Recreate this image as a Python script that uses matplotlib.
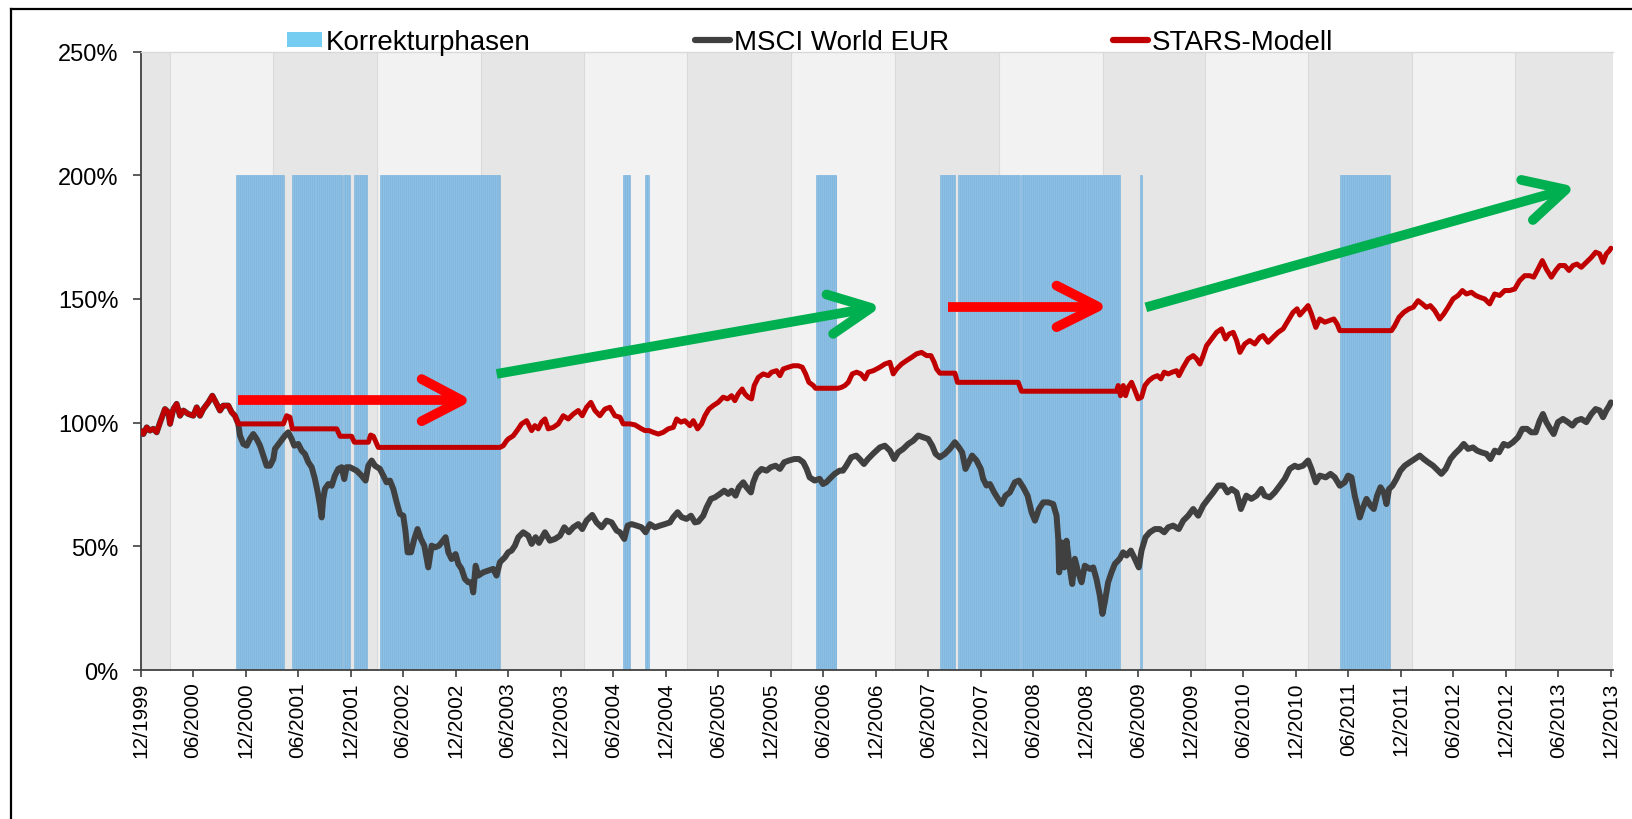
import numpy as np
import matplotlib
matplotlib.use("Agg")
import matplotlib.pyplot as plt
from matplotlib.patches import Patch
from matplotlib.lines import Line2D

# ---------------- data (time in years after 12/1999) ----------------
xtick_labels = ["12/1999", "06/2000", "12/2000", "06/2001", "12/2001", "06/2002", "12/2002",
                "06/2003", "12/2003", "06/2004", "12/2004", "06/2005", "12/2005", "06/2006",
                "12/2006", "06/2007", "12/2007", "06/2008", "12/2008", "06/2009", "12/2009",
                "06/2010", "12/2010", "06/2011", "12/2011", "06/2012", "12/2012", "06/2013",
                "12/2013"]
ytick_values = [0, 50, 100, 150, 200, 250]

# alternating background bands (edges)
band_edges = [0.278, 1.258, 2.249, 3.240, 4.221, 5.201, 6.192, 7.183, 8.174, 9.165,
              10.136, 11.117, 12.108, 13.088]

# correction phases (start, end)
phase_start = [0.909, 1.445, 1.928, 2.032, 2.280, 4.596, 4.803, 6.427, 7.611, 7.779, 8.382, 9.515, 11.425]
phase_end = [1.366, 1.915, 1.994, 2.156, 3.423, 4.660, 4.841, 6.621, 7.754, 8.372, 9.324, 9.531, 11.901]
phase_level = 200

stars_t = [0.000, 0.027, 0.059, 0.090, 0.122, 0.154, 0.186, 0.233, 0.265, 0.281, 0.313, 0.344,
           0.376, 0.408, 0.455, 0.503, 0.535, 0.566, 0.598, 0.646, 0.684, 0.725, 0.757, 0.788,
           0.836, 0.868, 0.899, 0.931, 1.360, 1.391, 1.423, 1.446, 1.868, 1.900, 2.010, 2.036,
           2.169, 2.191, 2.217, 2.264, 3.422, 3.454, 3.486, 3.501, 3.549, 3.597, 3.628, 3.676,
           3.724, 3.755, 3.787, 3.819, 3.851, 3.882, 3.930, 3.978, 4.025, 4.073, 4.121, 4.168,
           4.206, 4.247, 4.288, 4.327, 4.374, 4.422, 4.469, 4.517, 4.565, 4.596, 4.660, 4.708,
           4.771, 4.803, 4.841, 4.882, 4.930, 4.977, 5.025, 5.073, 5.105, 5.145, 5.183, 5.231,
           5.263, 5.304, 5.342, 5.374, 5.412, 5.453, 5.500, 5.548, 5.589, 5.628, 5.659, 5.691,
           5.729, 5.755, 5.786, 5.818, 5.843, 5.882, 5.929, 5.977, 6.009, 6.056, 6.088, 6.120,
           6.168, 6.215, 6.263, 6.301, 6.333, 6.364, 6.406, 6.427, 6.643, 6.675, 6.707, 6.739,
           6.777, 6.818, 6.859, 6.897, 6.929, 6.977, 7.040, 7.087, 7.135, 7.167, 7.199, 7.246,
           7.294, 7.342, 7.389, 7.437, 7.484, 7.526, 7.557, 7.580, 7.611, 7.754, 7.779, 8.357,
           8.388, 9.293, 9.309, 9.331, 9.357, 9.379, 9.404, 9.436, 9.468, 9.499, 9.531, 9.563,
           9.601, 9.642, 9.683, 9.715, 9.747, 9.785, 9.823, 9.864, 9.887, 9.928, 9.975, 10.023,
           10.055, 10.087, 10.118, 10.150, 10.198, 10.245, 10.293, 10.331, 10.363, 10.404,
           10.436, 10.468, 10.514, 10.561, 10.609, 10.657, 10.688, 10.736, 10.783, 10.831,
           10.879, 10.926, 10.974, 11.012, 11.038, 11.076, 11.117, 11.149, 11.190, 11.228,
           11.276, 11.317, 11.362, 11.393, 11.419, 11.911, 11.942, 11.983, 12.028, 12.078,
           12.117, 12.164, 12.205, 12.243, 12.281, 12.322, 12.370, 12.408, 12.449, 12.497,
           12.545, 12.586, 12.624, 12.672, 12.713, 12.751, 12.798, 12.846, 12.893, 12.941,
           12.989, 13.036, 13.084, 13.131, 13.179, 13.227, 13.265, 13.306, 13.347, 13.385,
           13.433, 13.474, 13.512, 13.560, 13.601, 13.639, 13.677, 13.718, 13.766, 13.814,
           13.855, 13.893, 13.925, 13.956, 13.985, 14.000]
stars_v = [96.8, 95.4, 98.1, 96.8, 97.5, 96.1, 100.1, 105.5, 104.2, 99.5, 105.5, 107.6,
           102.8, 104.9, 103.5, 102.8, 106.2, 102.8, 105.5, 108.2, 110.9, 107.6, 104.9, 106.9,
           106.9, 104.2, 102.8, 99.5, 99.5, 102.8, 102.2, 97.5, 97.5, 94.5, 94.5, 92.1,
           92.1, 95.0, 94.5, 90.0, 90.0, 90.7, 92.7, 93.4, 94.7, 97.5, 99.5, 100.8,
           96.8, 98.8, 97.5, 100.2, 101.5, 97.5, 98.1, 99.5, 102.8, 101.5, 103.5, 104.9,
           102.8, 106.2, 108.2, 104.9, 102.8, 105.5, 106.2, 102.8, 102.2, 99.5, 99.5, 99.1,
           97.5, 96.8, 96.8, 96.1, 95.4, 96.1, 97.5, 98.1, 101.5, 100.2, 100.8, 98.8,
           100.8, 97.5, 99.5, 102.8, 105.5, 106.9, 108.2, 110.3, 109.6, 110.9, 108.9, 111.6,
           113.6, 111.6, 110.3, 109.6, 115.0, 118.3, 119.7, 119.0, 120.4, 121.0, 119.0, 121.7,
           122.4, 123.0, 123.0, 122.4, 119.7, 116.3, 115.0, 113.9, 113.9, 114.3, 115.0, 116.3,
           119.7, 120.4, 119.7, 117.7, 120.4, 121.0, 122.4, 123.7, 124.4, 119.7, 121.7, 123.7,
           125.1, 126.4, 127.8, 128.4, 127.1, 127.1, 124.4, 121.7, 120.0, 120.0, 116.3, 116.3,
           112.7, 112.7, 115.0, 110.9, 115.0, 110.9, 114.3, 116.3, 113.0, 109.6, 110.3, 115.0,
           117.0, 118.3, 119.0, 117.7, 120.4, 119.7, 120.4, 121.0, 119.0, 122.4, 125.8, 127.1,
           125.8, 123.7, 127.1, 131.1, 133.8, 136.5, 137.9, 133.8, 135.8, 136.5,
           133.2, 128.4, 131.8, 133.2, 131.8, 134.5, 135.2, 132.5, 134.5, 136.5,
           137.9, 141.2, 144.6, 146.0, 143.5, 145.3, 147.3, 143.9, 138.5, 141.9,
           140.6, 141.2, 141.9, 139.9, 137.2, 137.2, 139.2, 142.6, 144.6, 146.0,
           146.6, 149.3, 148.0, 146.6, 147.3, 145.3, 141.9, 143.9, 146.6, 150.0,
           151.4, 153.4, 152.0, 152.7, 151.4, 150.7, 150.0, 148.0, 152.0, 151.4,
           153.4, 153.4, 154.0, 157.4, 159.4, 159.4, 158.8, 162.1, 165.5, 162.1,
           158.8, 161.5, 163.5, 163.5, 161.5, 163.5, 164.1, 162.8, 164.8, 166.8,
           168.9, 168.2, 164.8, 168.2, 169.5, 170.5]

msci_t = [0.000, 0.027, 0.059, 0.090, 0.122, 0.154, 0.186, 0.233, 0.265, 0.281, 0.313, 0.344,
          0.376, 0.408, 0.455, 0.503, 0.535, 0.566, 0.598, 0.646, 0.684, 0.725, 0.757, 0.788,
          0.836, 0.868, 0.899, 0.931, 0.947, 0.979, 1.011, 1.042, 1.074, 1.106, 1.138, 1.169,
          1.201, 1.233, 1.265, 1.280, 1.328, 1.376, 1.407, 1.439, 1.464, 1.502, 1.534, 1.566,
          1.598, 1.630, 1.661, 1.687, 1.709, 1.725, 1.740, 1.756, 1.788, 1.820, 1.851, 1.883,
          1.915, 1.940, 1.962, 1.994, 2.026, 2.058, 2.105, 2.143, 2.169, 2.201, 2.232, 2.280,
          2.312, 2.343, 2.375, 2.407, 2.439, 2.470, 2.502, 2.524, 2.543, 2.575, 2.607, 2.638,
          2.670, 2.702, 2.740, 2.772, 2.804, 2.842, 2.867, 2.905, 2.931, 2.962, 3.000, 3.026,
          3.057, 3.089, 3.121, 3.152, 3.168, 3.191, 3.216, 3.263, 3.311, 3.358, 3.390, 3.422,
          3.470, 3.501, 3.533, 3.565, 3.597, 3.644, 3.692, 3.724, 3.762, 3.794, 3.825, 3.851,
          3.898, 3.946, 3.994, 4.035, 4.079, 4.121, 4.168, 4.206, 4.247, 4.301, 4.342, 4.390,
          4.438, 4.485, 4.533, 4.565, 4.606, 4.638, 4.676, 4.723, 4.771, 4.809, 4.850, 4.898,
          4.946, 4.993, 5.041, 5.073, 5.114, 5.152, 5.199, 5.241, 5.279, 5.311, 5.358, 5.390,
          5.431, 5.469, 5.517, 5.558, 5.596, 5.628, 5.666, 5.697, 5.739, 5.770, 5.812, 5.834,
          5.866, 5.913, 5.961, 6.002, 6.047, 6.088, 6.129, 6.174, 6.225, 6.269, 6.310, 6.342,
          6.371, 6.418, 6.466, 6.498, 6.529, 6.561, 6.609, 6.656, 6.688, 6.720, 6.767, 6.815,
          6.847, 6.888, 6.926, 6.974, 7.040, 7.087, 7.135, 7.176, 7.214, 7.262, 7.310, 7.357,
          7.405, 7.452, 7.500, 7.538, 7.570, 7.611, 7.659, 7.706, 7.754, 7.792, 7.823, 7.855,
          7.887, 7.918, 7.960, 8.001, 8.023, 8.055, 8.087, 8.128, 8.166, 8.198, 8.236, 8.277,
          8.325, 8.363, 8.404, 8.446, 8.484, 8.516, 8.554, 8.595, 8.642, 8.690, 8.722, 8.738,
          8.747, 8.769, 8.795, 8.817, 8.849, 8.871, 8.896, 8.928, 8.960, 8.991, 9.039, 9.071,
          9.102, 9.134, 9.159, 9.181, 9.213, 9.245, 9.277, 9.324, 9.356, 9.388, 9.429, 9.467,
          9.505, 9.531, 9.569, 9.610, 9.658, 9.705, 9.747, 9.785, 9.832, 9.886, 9.928, 9.975,
          10.023, 10.071, 10.118, 10.166, 10.214, 10.261, 10.309, 10.350, 10.388, 10.436,
          10.477, 10.529, 10.577, 10.625, 10.672, 10.704, 10.752, 10.799, 10.847, 10.895,
          10.942, 10.990, 11.022, 11.069, 11.117, 11.149, 11.190, 11.228, 11.285, 11.330,
          11.371, 11.419, 11.466, 11.498, 11.530, 11.561, 11.584, 11.609, 11.641, 11.673,
          11.711, 11.742, 11.774, 11.806, 11.838, 11.863, 11.888, 11.920, 11.958, 11.996,
          12.037, 12.085, 12.132, 12.180, 12.218, 12.259, 12.307, 12.354, 12.386, 12.427,
          12.472, 12.513, 12.561, 12.599, 12.640, 12.687, 12.726, 12.767, 12.815, 12.853,
          12.894, 12.935, 12.979, 13.021, 13.068, 13.116, 13.157, 13.201, 13.242, 13.284,
          13.322, 13.353, 13.385, 13.423, 13.455, 13.496, 13.544, 13.591, 13.633, 13.671,
          13.718, 13.766, 13.814, 13.855, 13.893, 13.925, 13.956, 13.985, 14.000]
msci_v = [96.8, 95.4, 98.1, 96.8, 97.5, 96.1, 100.1, 105.5, 104.2, 99.5, 105.5, 107.6,
          102.8, 104.9, 103.5, 102.8, 106.2, 102.8, 105.5, 108.2, 110.9, 107.6, 104.9, 106.9,
          106.9, 104.2, 102.8, 99.5, 94.8, 91.4, 90.7, 93.4, 95.4, 93.4, 90.7, 86.7,
          82.6, 82.6, 85.3, 89.4, 92.1, 94.8, 96.1, 93.4, 90.7, 91.4, 88.7, 87.3,
          84.0, 82.0, 77.2, 71.9, 66.5, 61.7, 69.2, 73.2, 75.2, 74.5, 78.6, 81.3,
          82.0, 77.2, 82.0, 82.0, 81.3, 80.6, 78.6, 76.6, 82.6, 84.7, 82.6, 81.3,
          78.6, 75.9, 76.6, 73.2, 67.8, 63.1, 62.4, 55.7, 47.6, 47.6, 53.0, 57.0,
          53.0, 50.3, 41.5, 50.3, 49.6, 50.3, 51.6, 53.7, 47.6, 44.9, 46.9, 42.9,
          40.9, 36.8, 35.5, 35.5, 31.4, 42.2, 38.2, 39.5, 40.2, 40.9, 38.2, 43.6,
          45.6, 47.6, 48.3, 50.3, 53.7, 55.7, 54.3, 51.0, 53.7, 51.4, 53.7, 55.7,
          52.3, 53.0, 54.3, 57.7, 55.7, 57.7, 59.0, 57.0, 60.4, 62.7, 59.7, 57.7,
          60.4, 59.7, 56.4, 55.7, 53.0, 58.4, 59.0, 58.4, 57.7, 55.7, 59.0, 57.7,
          58.4, 59.0, 59.7, 61.8, 63.8, 61.8, 61.1, 62.4, 59.7, 60.0, 62.4, 65.8,
          69.2, 69.8, 71.2, 72.5, 71.2, 72.5, 70.5, 73.9, 75.9, 73.9, 71.8, 75.9,
          79.3, 81.3, 80.6, 82.0, 82.6, 81.3, 84.0, 84.7, 85.3, 85.3, 84.0, 81.3,
          77.9, 76.6, 77.3, 75.2, 75.9, 77.3, 79.3, 80.6, 80.6, 82.6, 86.0, 86.7,
          85.3, 83.3, 85.3, 87.4, 90.0, 90.7, 88.7, 85.3, 88.0, 89.4, 91.4, 92.7,
          94.8, 94.1, 93.4, 90.7, 87.4, 86.0, 87.4, 89.4, 92.1, 90.0, 88.0, 81.3,
          84.0, 86.7, 84.7, 81.3, 77.3, 74.6, 75.2, 71.8, 69.2, 67.1, 70.5, 71.8,
          75.9, 76.6, 73.9, 70.5, 63.8, 60.4, 65.1, 67.8, 67.8, 67.1, 62.4, 53.0,
          39.5, 51.6, 41.5, 52.3, 40.9, 34.8, 45.0, 39.5, 35.5, 42.2, 40.9, 41.5,
          36.8, 30.1, 22.7, 27.4, 35.5, 39.5, 42.9, 45.0, 47.6, 46.3, 48.3, 45.0,
          41.5, 48.3, 53.7, 55.7, 57.0, 57.0, 55.7, 57.7, 58.4, 57.0, 60.4, 62.4,
          65.1, 62.4, 66.5, 69.2, 71.8, 74.6, 74.6, 71.8, 73.2, 71.8,
          65.1, 70.5, 69.2, 70.5, 73.2, 70.5, 69.8, 71.8, 74.5, 77.3,
          81.3, 82.6, 82.0, 82.6, 84.7, 81.3, 75.9, 78.6, 77.9, 79.3,
          77.9, 74.5, 75.9, 78.6, 77.9, 70.5, 66.5, 61.7, 65.8, 69.2,
          66.5, 65.1, 70.5, 73.9, 71.8, 67.1, 73.2, 74.5, 77.3, 80.6,
          82.6, 84.0, 85.3, 86.7, 85.3, 84.0, 82.6, 80.6, 79.3, 81.3,
          85.3, 87.4, 89.4, 91.4, 89.4, 90.0, 88.7, 88.0, 87.4, 85.3,
          88.7, 88.0, 91.4, 90.7, 92.1, 94.1, 97.5, 97.5, 96.1, 96.1,
          100.8, 103.5, 100.2, 97.5, 95.4, 100.2, 101.5, 100.2, 98.8, 100.8,
          101.5, 100.2, 103.5, 105.5, 104.9, 102.2, 104.9, 106.9, 108.2]

# annotation arrows: (start, tip, arm_a, arm_b) in data coordinates
red_arrows = [((0.928, 109.0), (3.060, 109.0), (2.677, 117.6), (2.677, 100.6)),
              ((7.690, 146.9), (9.115, 146.9), (8.722, 155.4), (8.722, 138.6))]
green_arrows = [((3.391, 119.7), (6.955, 146.4), (6.532, 151.8), (6.595, 135.9)),
                ((9.572, 146.6), (13.570, 194.2), (13.146, 198.1), (13.257, 181.9))]

legend_labels = ["Korrekturphasen", "MSCI World EUR", "STARS-Modell"]

# ---------------- styling ----------------
plt.rcParams['font.family'] = ['Liberation Sans', 'DejaVu Sans']
W, H = 1632, 820
fig = plt.figure(figsize=(W / 100, H / 100), dpi=100)
ax = fig.add_axes([140.5 / W, (H - 671.1) / H, (1613 - 140.5) / W, (671.1 - 52.5) / H])
x_max = 14.02
ax.set_xlim(0, x_max)
ax.set_ylim(0, 250)

# background bands
edges = [0.0] + band_edges + [x_max]
for i in range(len(edges) - 1):
    ax.axvspan(edges[i], edges[i + 1], color='#e6e6e6' if i % 2 == 0 else '#f2f2f2',
               lw=0, zorder=0)
for e in band_edges:
    ax.axvline(e, color='#dadada', lw=0.8, zorder=0.5)

# correction phase bars (weekly)
week = 1 / 52
for s, e in zip(phase_start, phase_end):
    pos = np.arange(s, e - 1e-9, week)
    widths = np.minimum(week, e - pos)
    ax.bar(pos, phase_level, width=widths, align='edge', color='#8bbfe4',
           edgecolor='#7db3dc', linewidth=0.45, zorder=1)

# lines
ax.plot(msci_t, msci_v, color='#404040', lw=4.3, solid_joinstyle='round',
        solid_capstyle='round', zorder=3)
ax.plot(stars_t, stars_v, color='#c00000', lw=3.6, solid_joinstyle='round',
        solid_capstyle='round', zorder=4)

# arrows
def draw_arrow(a, color):
    start, tip, arm1, arm2 = a
    ax.plot([start[0], tip[0]], [start[1], tip[1]], color=color, lw=7,
            solid_capstyle='butt', zorder=6)
    ax.plot([arm1[0], tip[0], arm2[0]], [arm1[1], tip[1], arm2[1]], color=color, lw=7,
            solid_capstyle='round', solid_joinstyle='round', zorder=6)

for a in red_arrows:
    draw_arrow(a, '#ff0000')
for a in green_arrows:
    draw_arrow(a, '#00b050')

# ticks
ax.set_xticks(np.arange(len(xtick_labels)) * 0.5)
ax.set_xticklabels(xtick_labels, rotation=90, fontsize=15)
ax.set_yticks(ytick_values)
ax.set_yticklabels([f"{v}%" for v in ytick_values], fontsize=17)
ax.tick_params(axis='x', direction='out', length=5, width=1.2, pad=3, color='#404040')
ax.tick_params(axis='y', direction='out', length=6, width=1.2, pad=10, color='#404040')

for side in ['left', 'bottom']:
    ax.spines[side].set_color('#404040')
    ax.spines[side].set_linewidth(1.3)
ax.spines['top'].set_color('#d9d9d9')
ax.spines['top'].set_linewidth(1.0)
ax.spines['right'].set_visible(False)

# legend
handles = [Patch(facecolor='#75cdf2', edgecolor='none'),
           Line2D([], [], color='#404040', lw=4.5, solid_capstyle='round'),
           Line2D([], [], color='#c00000', lw=4.5, solid_capstyle='round')]
fig.legend(handles, legend_labels, loc='center left', bbox_to_anchor=(287 / W, 1 - 43 / H),
           ncol=3, frameon=False, fontsize=20, handlelength=1.26, handleheight=0.45,
           handletextpad=0.15, columnspacing=5.9, borderpad=0, borderaxespad=0)

# outer frame (top and left edges visible)
fig.add_artist(Line2D([11 / W, 1], [1 - 9.5 / H, 1 - 9.5 / H], color='black', lw=1.6,
                      transform=fig.transFigure))
fig.add_artist(Line2D([11 / W, 11 / W], [0, 1 - 9.5 / H], color='black', lw=1.6,
                      transform=fig.transFigure))

fig.savefig('out.png', dpi=100)
